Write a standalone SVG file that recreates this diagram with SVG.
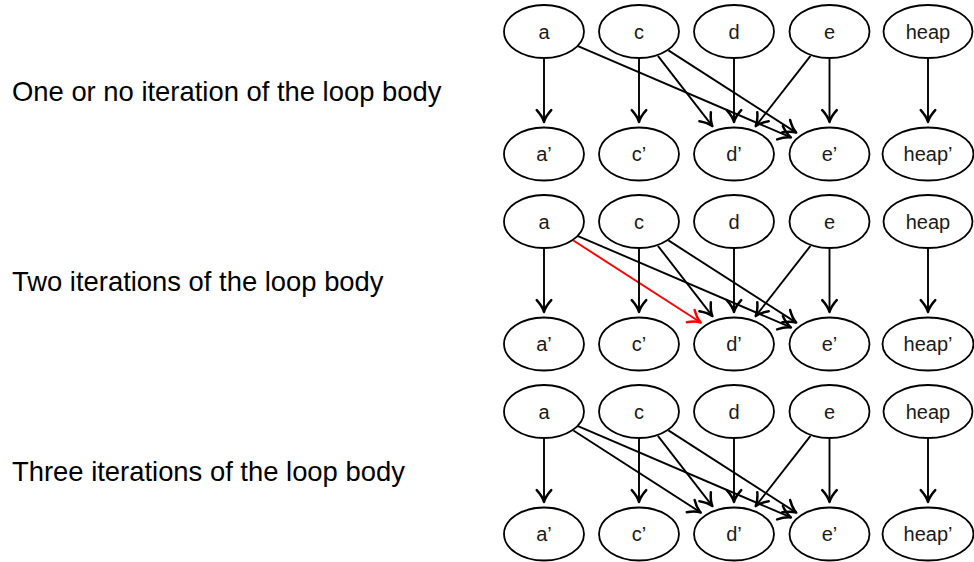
<svg xmlns="http://www.w3.org/2000/svg" width="974" height="562" viewBox="0 0 974 562">
<defs>
<style>
.n ellipse{fill:#fff;stroke:#000;stroke-width:1.8}
.n text{font-family:"Liberation Sans",Arial,sans-serif;font-size:20px;text-anchor:middle;fill:#1a1a1a}
.lbl{font-family:"Liberation Sans",Arial,sans-serif;font-size:27.4px;fill:#000}
.e{stroke:#000;stroke-width:1.9;fill:none;marker-end:url(#ah)}
.r{stroke:#ff0000;marker-end:url(#ahr)}
</style>
<marker id="ah" markerUnits="userSpaceOnUse" orient="auto" refX="0" refY="0" markerWidth="20" markerHeight="20" viewBox="-12 -8 14 16" overflow="visible">
<path d="M-9.5,-5.8 C-6,-2.6 -2.5,-0.7 0,0 C-2.5,0.7 -6,2.6 -9.5,5.8" fill="none" stroke="#000" stroke-width="2" stroke-linecap="round" stroke-linejoin="round"/>
</marker>
<marker id="ahr" markerUnits="userSpaceOnUse" orient="auto" refX="0" refY="0" markerWidth="20" markerHeight="20" viewBox="-12 -8 14 16" overflow="visible">
<path d="M-9.5,-5.8 C-6,-2.6 -2.5,-0.7 0,0 C-2.5,0.7 -6,2.6 -9.5,5.8" fill="none" stroke="#ff0000" stroke-width="2" stroke-linecap="round" stroke-linejoin="round"/>
</marker>
</defs>
<g id="panel1">
<text class="lbl" x="12" y="101">One or no iteration of the loop body</text>
<g id="connectors1">
<line class="e" x1="544" y1="58.5" x2="544" y2="122"/>
<line class="e" x1="578" y1="46.1" x2="790.9" y2="137.4"/>
<line class="e" x1="639" y1="58.5" x2="639" y2="122"/>
<line class="e" x1="657.9" y1="55.8" x2="712.4" y2="126.1"/>
<line class="e" x1="668.4" y1="50.4" x2="796.2" y2="132.6"/>
<line class="e" x1="734" y1="58.5" x2="734" y2="122"/>
<line class="e" x1="810.5" y1="55.8" x2="755.7" y2="126.1"/>
<line class="e" x1="829.5" y1="58.5" x2="829.5" y2="122"/>
<line class="e" x1="928" y1="58.5" x2="928" y2="122"/>
</g>
<g class="n">
<g id="p1-a"><ellipse cx="544" cy="31.5" rx="40" ry="26.5"/><text x="544" y="38.5">a</text></g>
<g id="p1-c"><ellipse cx="639" cy="31.5" rx="40" ry="26.5"/><text x="639" y="38.5">c</text></g>
<g id="p1-d"><ellipse cx="734" cy="31.5" rx="40" ry="26.5"/><text x="734" y="38.5">d</text></g>
<g id="p1-e"><ellipse cx="829.5" cy="31.5" rx="40" ry="26.5"/><text x="829.5" y="38.5">e</text></g>
<g id="p1-heap"><ellipse cx="928" cy="31.5" rx="44.5" ry="26.5"/><text x="928" y="38.5">heap</text></g>
<g id="p1-a2"><ellipse cx="544" cy="154" rx="40" ry="26.5"/><text x="544" y="161">a’</text></g>
<g id="p1-c2"><ellipse cx="639" cy="154" rx="40" ry="26.5"/><text x="639" y="161">c’</text></g>
<g id="p1-d2"><ellipse cx="734" cy="154" rx="40" ry="26.5"/><text x="734" y="161">d’</text></g>
<g id="p1-e2"><ellipse cx="829.5" cy="154" rx="40" ry="26.5"/><text x="829.5" y="161">e’</text></g>
<g id="p1-heap2"><ellipse cx="928" cy="154" rx="45.5" ry="26.5"/><text x="928" y="161">heap’</text></g>
</g>
</g>
<g id="panel2" transform="translate(0,190)">
<text class="lbl" x="12" y="101">Two iterations of the loop body</text>
<g id="connectors2">
<line class="e" x1="544" y1="58.5" x2="544" y2="122"/>
<line class="e r" x1="573.4" y1="50.5" x2="700.7" y2="132.5"/>
<line class="e" x1="578" y1="46.1" x2="790.9" y2="137.4"/>
<line class="e" x1="639" y1="58.5" x2="639" y2="122"/>
<line class="e" x1="657.9" y1="55.8" x2="712.4" y2="126.1"/>
<line class="e" x1="668.4" y1="50.4" x2="796.2" y2="132.6"/>
<line class="e" x1="734" y1="58.5" x2="734" y2="122"/>
<line class="e" x1="810.5" y1="55.8" x2="755.7" y2="126.1"/>
<line class="e" x1="829.5" y1="58.5" x2="829.5" y2="122"/>
<line class="e" x1="928" y1="58.5" x2="928" y2="122"/>
</g>
<g class="n">
<g id="p2-a"><ellipse cx="544" cy="31.5" rx="40" ry="26.5"/><text x="544" y="38.5">a</text></g>
<g id="p2-c"><ellipse cx="639" cy="31.5" rx="40" ry="26.5"/><text x="639" y="38.5">c</text></g>
<g id="p2-d"><ellipse cx="734" cy="31.5" rx="40" ry="26.5"/><text x="734" y="38.5">d</text></g>
<g id="p2-e"><ellipse cx="829.5" cy="31.5" rx="40" ry="26.5"/><text x="829.5" y="38.5">e</text></g>
<g id="p2-heap"><ellipse cx="928" cy="31.5" rx="44.5" ry="26.5"/><text x="928" y="38.5">heap</text></g>
<g id="p2-a2"><ellipse cx="544" cy="154" rx="40" ry="26.5"/><text x="544" y="161">a’</text></g>
<g id="p2-c2"><ellipse cx="639" cy="154" rx="40" ry="26.5"/><text x="639" y="161">c’</text></g>
<g id="p2-d2"><ellipse cx="734" cy="154" rx="40" ry="26.5"/><text x="734" y="161">d’</text></g>
<g id="p2-e2"><ellipse cx="829.5" cy="154" rx="40" ry="26.5"/><text x="829.5" y="161">e’</text></g>
<g id="p2-heap2"><ellipse cx="928" cy="154" rx="45.5" ry="26.5"/><text x="928" y="161">heap’</text></g>
</g>
</g>
<g id="panel3" transform="translate(0,380)">
<text class="lbl" x="12" y="101">Three iterations of the loop body</text>
<g id="connectors3">
<line class="e" x1="544" y1="58.5" x2="544" y2="122"/>
<line class="e" x1="573.4" y1="50.5" x2="700.7" y2="132.5"/>
<line class="e" x1="578" y1="46.1" x2="790.9" y2="137.4"/>
<line class="e" x1="639" y1="58.5" x2="639" y2="122"/>
<line class="e" x1="657.9" y1="55.8" x2="712.4" y2="126.1"/>
<line class="e" x1="668.4" y1="50.4" x2="796.2" y2="132.6"/>
<line class="e" x1="734" y1="58.5" x2="734" y2="122"/>
<line class="e" x1="810.5" y1="55.8" x2="755.7" y2="126.1"/>
<line class="e" x1="829.5" y1="58.5" x2="829.5" y2="122"/>
<line class="e" x1="928" y1="58.5" x2="928" y2="122"/>
</g>
<g class="n">
<g id="p3-a"><ellipse cx="544" cy="31.5" rx="40" ry="26.5"/><text x="544" y="38.5">a</text></g>
<g id="p3-c"><ellipse cx="639" cy="31.5" rx="40" ry="26.5"/><text x="639" y="38.5">c</text></g>
<g id="p3-d"><ellipse cx="734" cy="31.5" rx="40" ry="26.5"/><text x="734" y="38.5">d</text></g>
<g id="p3-e"><ellipse cx="829.5" cy="31.5" rx="40" ry="26.5"/><text x="829.5" y="38.5">e</text></g>
<g id="p3-heap"><ellipse cx="928" cy="31.5" rx="44.5" ry="26.5"/><text x="928" y="38.5">heap</text></g>
<g id="p3-a2"><ellipse cx="544" cy="154" rx="40" ry="26.5"/><text x="544" y="161">a’</text></g>
<g id="p3-c2"><ellipse cx="639" cy="154" rx="40" ry="26.5"/><text x="639" y="161">c’</text></g>
<g id="p3-d2"><ellipse cx="734" cy="154" rx="40" ry="26.5"/><text x="734" y="161">d’</text></g>
<g id="p3-e2"><ellipse cx="829.5" cy="154" rx="40" ry="26.5"/><text x="829.5" y="161">e’</text></g>
<g id="p3-heap2"><ellipse cx="928" cy="154" rx="45.5" ry="26.5"/><text x="928" y="161">heap’</text></g>
</g>
</g>
</svg>
